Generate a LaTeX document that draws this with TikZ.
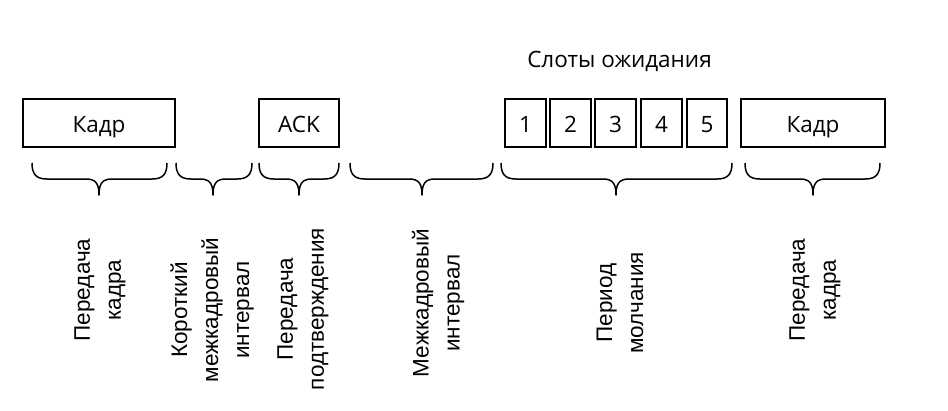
\documentclass[tikz,border=0pt]{standalone}
\usepackage{fontspec}
\setmainfont{Open Sans}
\newfontfamily\rotfont{Liberation Sans}
\begin{document}
\begin{tikzpicture}[x=1pt,y=-1pt,
  box/.style={draw, line width=1.6pt, minimum height=48pt, inner sep=0pt, text height=18pt, text depth=0pt, font=\fontsize{22.5}{26}\selectfont},
  vlabel/.style={rotate=90, align=center, inner sep=0pt, font=\rotfont\fontsize{22.5}{31}\selectfont},
  brace/.style={line width=1.5pt, line join=round}]
\useasboundingbox (0,0) rectangle (948,410);
% boxes
\node[box, minimum width=152pt] (k1) at (99,123) {Кадр};
\node[box, minimum width=80pt] (ack) at (299,123) {ACK};
\node[box, minimum width=41pt] (s1) at (525.5,123) {1};
\node[box, minimum width=41pt] (s2) at (570.5,123) {2};
\node[box, minimum width=41pt] (s3) at (615.5,123) {3};
\node[box, minimum width=41pt] (s4) at (661.5,123) {4};
\node[box, minimum width=40pt] (s5) at (707,123) {5};
\node[box, minimum width=144pt] (k2) at (813,123) {Кадр};
\node[font=\fontsize{22.5}{26}\selectfont, inner sep=0pt, anchor=base] (slots) at (619.5,67) {Слоты ожидания};
% braces
\foreach \a/\b/\t in {32/167/99, 176/252/213, 259/339/299, 350/493/422, 501/732/616, 745/880/813}{
  \draw[brace] (\a,163) .. controls (\a,174) and (\a+4,179) .. (\a+15,179)
    -- (\t-13,179) .. controls (\t-3,179) and (\t,184) .. (\t,195)
    .. controls (\t,184) and (\t+3,179) .. (\t+13,179)
    -- (\b-15,179) .. controls (\b-4,179) and (\b,174) .. (\b,163);
}
% vertical labels
\node[vlabel] (l1) at (100,290) {Передача\\кадра};
\node[vlabel] (l2) at (212,310) {Короткий\\межкадровый\\интервал};
\node[vlabel] (l3) at (303,309) {Передача\\подтверждения};
\node[vlabel] (l4) at (438,303) {Межкадровый\\интервал};
\node[vlabel] (l5) at (620,303) {Период\\молчания};
\node[vlabel] (l6) at (815,290) {Передача\\кадра};
\end{tikzpicture}
\end{document}
